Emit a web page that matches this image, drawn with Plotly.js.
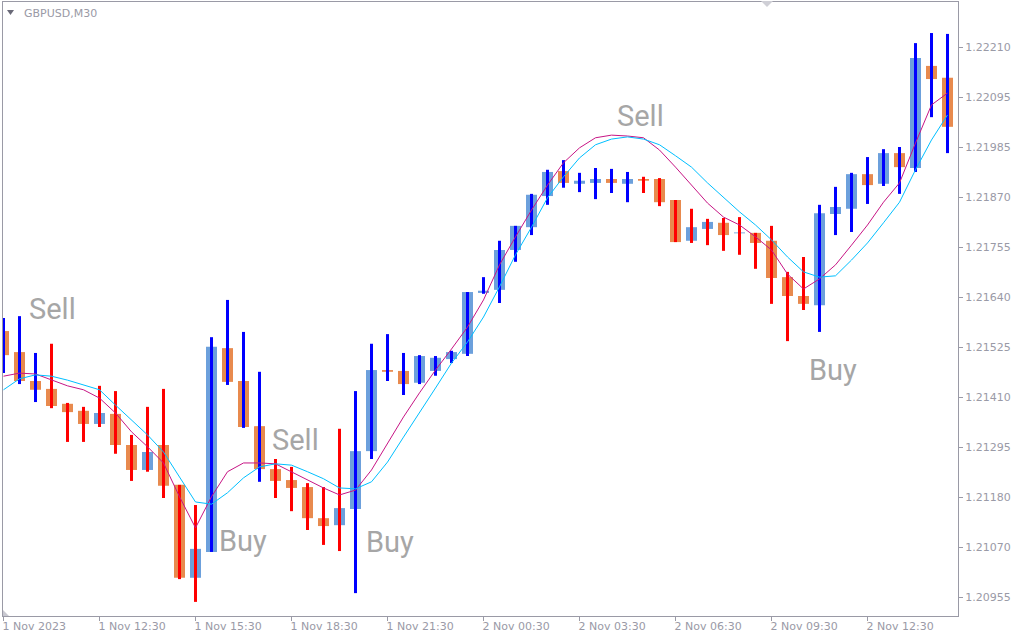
<!DOCTYPE html>
<html><head><meta charset="utf-8">
<script src="https://cdn.plot.ly/plotly-3.0.1.min.js"></script>
<style>html,body{margin:0;padding:0;background:#fff;}#chart{width:1024px;height:640px;}</style>
</head><body><div id="chart"></div>
<script>
// Heiken Ashi candles, GBPUSD M30 (bar 0 = 1 Nov 09:30, one bar per 30 min)
const haOpen = [1.21563,1.21515,1.21449,1.21431,1.21397,1.21381,1.21351,1.21374,1.21303,1.21246,
1.21303,1.21212,1.21000,1.21059,1.21524,1.21449,1.21346,1.21248,1.21223,1.21207,
1.21136,1.21120,1.21157,1.21289,1.21474,1.21472,1.21445,1.21472,1.21499,1.21511,
1.21650,1.21657,1.21748,1.21800,1.21871,1.21928,1.21899,1.21901,1.21910,1.21899,
1.21910,1.21910,1.21862,1.21769,1.21796,1.21810,1.21786,1.21787,1.21769,1.21686,
1.21643,1.21622,1.21830,1.21842,1.21921,1.21899,1.21969,1.21935,1.22168,1.22141];
const haClose = [1.21508,1.21449,1.21429,1.21392,1.21378,1.21351,1.21376,1.21303,1.21246,1.21287,
1.21210,1.21000,1.21066,1.21527,1.21447,1.21344,1.21248,1.21221,1.21205,1.21136,
1.21118,1.21159,1.21289,1.21474,1.21470,1.21442,1.21506,1.21502,1.21515,1.21652,
1.21655,1.21748,1.21803,1.21874,1.21926,1.21901,1.21906,1.21910,1.21901,1.21910,
1.21906,1.21857,1.21766,1.21800,1.21812,1.21782,1.21788,1.21764,1.21684,1.21643,
1.21625,1.21832,1.21846,1.21921,1.21896,1.21969,1.21937,1.22186,1.22138,1.22029];
const barHigh = [1.21593,1.21597,1.21513,1.21534,1.21399,1.21390,1.21438,1.21426,1.21326,1.21390,
1.21431,1.21212,1.21166,1.21549,1.21634,1.21561,1.21470,1.21271,1.21253,1.21216,
1.21207,1.21340,1.21426,1.21534,1.21556,1.21513,1.21508,1.21506,1.21518,1.21652,
1.21686,1.21769,1.21803,1.21876,1.21931,1.21953,1.21924,1.21935,1.21933,1.21926,
1.21915,1.21912,1.21862,1.21842,1.21819,1.21821,1.21823,1.21787,1.21803,1.21698,
1.21732,1.21851,1.21892,1.21924,1.21960,1.21978,1.21983,1.22220,1.22243,1.22241];
const barLow = [1.21467,1.21442,1.21401,1.21387,1.21310,1.21310,1.21344,1.21283,1.21221,1.21242,
1.21182,1.20997,1.20945,1.21059,1.21440,1.21342,1.21219,1.21182,1.21152,1.21109,
1.21075,1.21061,1.20965,1.21271,1.21449,1.21417,1.21442,1.21461,1.21490,1.21506,
1.21648,1.21627,1.21721,1.21782,1.21851,1.21890,1.21880,1.21864,1.21878,1.21857,
1.21878,1.21848,1.21766,1.21764,1.21759,1.21746,1.21737,1.21705,1.21625,1.21540,
1.21611,1.21561,1.21782,1.21789,1.21853,1.21894,1.21876,1.21926,1.22051,1.21969];
// 1 = bullish (blue) wick, 0 = bearish (red) wick
const wickUp = [1,1,1,0,0,0,0,0,0,0, 0,0,0,1,1,1,1,0,0,0, 0,0,1,1,1,1,1,1,1,1,
1,1,1,1,1,1,1,1,1,1, 0,0,0,0,0,0,0,0,0,0, 0,1,1,1,1,1,1,1,1,1];
const maFast = [1.21460,1.21467,1.21465,1.21451,1.21438,1.21429,1.21410,1.21376,1.21333,1.21299,
1.21262,1.21185,1.21114,1.21185,1.21242,1.21262,1.21262,1.21260,1.21242,1.21223,
1.21205,1.21189,1.21200,1.21246,1.21308,1.21367,1.21422,1.21474,1.21522,1.21572,
1.21634,1.21714,1.21778,1.21839,1.21896,1.21947,1.21981,1.22004,1.22010,1.22008,
1.22004,1.21976,1.21937,1.21896,1.21855,1.21823,1.21805,1.21778,1.21748,1.21693,
1.21659,1.21682,1.21714,1.21759,1.21805,1.21857,1.21901,1.21992,1.22079,1.22106];
const maSlow = [1.21429,1.21454,1.21463,1.21460,1.21451,1.21440,1.21429,1.21394,1.21360,1.21326,
1.21287,1.21230,1.21173,1.21168,1.21194,1.21228,1.21253,1.21260,1.21257,1.21242,
1.21226,1.21205,1.21203,1.21219,1.21264,1.21321,1.21376,1.21433,1.21490,1.21538,
1.21595,1.21664,1.21737,1.21800,1.21867,1.21915,1.21958,1.21988,1.22001,1.22006,
1.22001,1.21988,1.21963,1.21937,1.21901,1.21867,1.21835,1.21805,1.21771,1.21732,
1.21698,1.21686,1.21689,1.21725,1.21764,1.21810,1.21857,1.21931,1.21999,1.22056];
const xTickLabels = ["1 Nov 2023","1 Nov 12:30","1 Nov 15:30","1 Nov 18:30","1 Nov 21:30",
"2 Nov 00:30","2 Nov 03:30","2 Nov 06:30","2 Nov 09:30","2 Nov 12:30"];
const yTickLabels = ["1.22210","1.22095","1.21985","1.21870","1.21755","1.21640",
"1.21525","1.21410","1.21295","1.21180","1.21070","1.20955"];
const signalText = ["Sell","Buy","Sell","Buy","Sell","Buy"];
const signalBar = [1.47,13.34,16.65,22.53,38.22,50.22];
const signalPrice = [1.21613,1.21084,1.21314,1.21082,1.22053,1.21474];

const idx = haOpen.map((_, i) => i);
const ORANGE = '#E88A4E', LBLUE = '#6CA0DC';
const AX = '#9a9aa6';

const bodies = {
  type: 'bar', x: idx,
  base: idx.map(i => Math.min(haOpen[i], haClose[i])),
  y: idx.map(i => Math.max(Math.abs(haClose[i] - haOpen[i]), 0.00002)),
  width: 11/16,
  marker: {color: idx.map(i => haClose[i] >= haOpen[i] ? LBLUE : ORANGE), line: {width: 0}},
  hoverinfo: 'skip'
};
const wicks = {
  type: 'bar', x: idx,
  base: barLow,
  y: idx.map(i => barHigh[i] - barLow[i]),
  width: 3/16,
  marker: {color: wickUp.map(u => u ? '#0000FF' : '#FF0000'), line: {width: 0}},
  hoverinfo: 'skip'
};
const fast = {type: 'scatter', mode: 'lines', x: idx, y: maFast,
  line: {color: '#C71585', width: 1}, hoverinfo: 'skip'};
const slow = {type: 'scatter', mode: 'lines', x: idx, y: maSlow,
  line: {color: '#00BFFF', width: 1}, hoverinfo: 'skip'};

const yTop = parseFloat(yTickLabels[0]);
const yBot = parseFloat(yTickLabels[yTickLabels.length - 1]);
const yTickVals = yTickLabels.map((_, k) => yTop + (yBot - yTop) * k / (yTickLabels.length - 1));
const xTickVals = xTickLabels.map((_, k) => k * 6);

const tickFont = {family: 'DejaVu Sans', size: 11, color: AX};
const annotations = signalText.map((t, k) => ({
  text: t, x: signalBar[k], y: signalPrice[k], xref: 'x', yref: 'y',
  xanchor: 'left', yanchor: 'middle', showarrow: false,
  font: {family: 'Roboto', size: 29, color: '#A6A6A6'}
}));
annotations.push({text: 'GBPUSD,M30', xref: 'paper', yref: 'paper', x: 0.0199, y: 0.982,
  xanchor: 'left', yanchor: 'middle', showarrow: false,
  font: {family: 'DejaVu Sans', size: 11, color: AX}});

const layout = {
  width: 1024, height: 640,
  margin: {l: 3, r: 66, t: 2, b: 24, pad: 0},
  paper_bgcolor: '#ffffff', plot_bgcolor: '#ffffff',
  barmode: 'overlay', showlegend: false, hovermode: false,
  xaxis: {range: [-0.03125, 59.656], showgrid: false, zeroline: false,
    showline: true, mirror: true, linecolor: AX, linewidth: 1,
    tickmode: 'array', tickvals: xTickVals, ticktext: xTickLabels,
    ticks: 'outside', ticklen: 4, tickcolor: AX, tickwidth: 1,
    ticklabelposition: 'outside right', ticklabelshift: -2, tickfont: tickFont, fixedrange: true},
  yaxis: {side: 'right', range: [1.209128, 1.223138], showgrid: false, zeroline: false,
    showline: true, mirror: true, linecolor: AX, linewidth: 1,
    tickmode: 'array', tickvals: yTickVals, ticktext: yTickLabels,
    ticks: 'outside', ticklen: 4, tickcolor: AX, tickwidth: 1,
    tickfont: tickFont, fixedrange: true},
  annotations: annotations,
  shapes: [
    {type: 'path', xref: 'paper', yref: 'paper', path: 'M 0.00419 0.98697 L 0.01152 0.98697 L 0.00785 0.97883 Z',
     fillcolor: '#6a6a78', line: {width: 0}},
    {type: 'path', xref: 'paper', yref: 'paper', path: 'M 0.7937 1.0016 L 0.8063 1.0016 L 0.8 0.9919 Z',
     fillcolor: '#cfcfd6', line: {width: 0}},
    {type: 'path', xref: 'paper', yref: 'paper', path: 'M 0 0.0098 L 0 0 L 0.0063 0 Z',
     fillcolor: '#c8c8d0', line: {width: 0}}
  ]
};
Plotly.newPlot('chart', [bodies, wicks, fast, slow], layout, {displayModeBar: false, staticPlot: true});
</script>
</body></html>
